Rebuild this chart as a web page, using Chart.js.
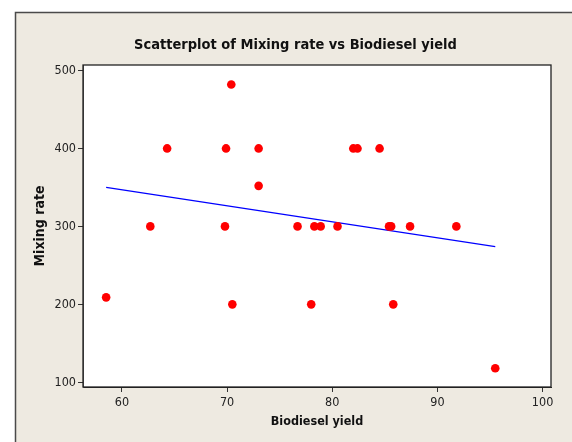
<!DOCTYPE html>
<html>
<head>
<meta charset="utf-8">
<script src="https://cdn.jsdelivr.net/npm/chart.js@4/dist/chart.umd.min.js"></script>
<style>
  html, body { margin: 0; padding: 0; background: #ffffff; }
  #wrap { width: 572px; height: 442px; position: relative; }
</style>
</head>
<body>
<div id="wrap"><canvas id="c" width="572" height="442"></canvas></div>
<script>
// ---- data ----
const biodieselYield = [58.5, 62.7, 64.3, 69.9, 69.8, 70.4, 70.5, 73.0, 73.0, 76.7, 78.3, 78.9, 80.5, 78.0, 82.0, 82.4, 84.5, 85.4, 85.6, 87.4, 91.8, 85.8, 95.5];
const mixingRate     = [209, 300, 400, 400, 300, 482, 200, 400, 352, 300, 300, 300, 300, 200, 400, 400, 400, 300, 300, 300, 300, 200, 118];
const fitLineX = [58.5, 95.5];
const fitLineY = [350, 274];
const xTickValues = [60, 70, 80, 90, 100];
const yTickValues = [100, 200, 300, 400, 500];
const chartTitle = 'Scatterplot of Mixing rate vs Biodiesel yield';
const xTitle = 'Biodiesel yield';
const yTitle = 'Mixing rate';

const points = biodieselYield.map((x, i) => ({ x: x, y: mixingRate[i] }));
const fitPoints = fitLineX.map((x, i) => ({ x: x, y: fitLineY[i] }));

const cond = "'DejaVu Sans Condensed', 'DejaVu Sans', sans-serif";

const framePlugin = {
  id: 'frame',
  beforeDraw(chart) {
    const ctx = chart.ctx;
    const a = chart.chartArea;
    ctx.save();
    ctx.fillStyle = '#ffffff';
    ctx.fillRect(0, 0, chart.width, chart.height);
    ctx.fillStyle = '#eeeae1';
    ctx.fillRect(15, 12, chart.width - 15, chart.height - 12);
    ctx.strokeStyle = '#4a4a4a';
    ctx.lineWidth = 1.5;
    ctx.beginPath();
    ctx.moveTo(15.5, chart.height);
    ctx.lineTo(15.5, 12.5);
    ctx.lineTo(chart.width, 12.5);
    ctx.stroke();
    ctx.fillStyle = '#ffffff';
    ctx.fillRect(a.left, a.top, a.right - a.left, a.bottom - a.top);
    // chart title
    ctx.fillStyle = '#111111';
    ctx.font = 'bold 14.5px ' + cond;
    ctx.textAlign = 'center';
    ctx.textBaseline = 'alphabetic';
    ctx.fillText(chartTitle, 295.5, 49);
    ctx.restore();
  },
  afterDatasetsDraw(chart) {
    const ctx = chart.ctx;
    const a = chart.chartArea;
    ctx.save();
    ctx.strokeStyle = '#222222';
    ctx.lineWidth = 1.3;
    ctx.strokeRect(a.left, a.top, a.right - a.left, a.bottom - a.top);
    ctx.restore();
  }
};

new Chart(document.getElementById('c'), {
  type: 'scatter',
  data: {
    datasets: [
      {
        label: 'Fit',
        data: fitPoints,
        showLine: true,
        borderColor: '#0000ff',
        borderWidth: 1.2,
        pointRadius: 0,
        fill: false,
        order: 2
      },
      {
        label: 'Data',
        data: points,
        backgroundColor: '#ff0000',
        borderColor: '#ff0000',
        borderWidth: 0,
        pointRadius: 4.3,
        pointHoverRadius: 4.3,
        order: 1
      }
    ]
  },
  plugins: [framePlugin],
  options: {
    responsive: false,
    animation: false,
    events: [],
    layout: { padding: { left: 0, right: 21, top: 65, bottom: 0 } },
    plugins: {
      legend: { display: false },
      tooltip: { enabled: false },
      title: { display: false }
    },
    scales: {
      x: {
        type: 'linear',
        min: 56.3,
        max: 100.8,
        afterFit(s) { s.height = 55; },
        afterBuildTicks(s) { s.ticks = xTickValues.map(v => ({ value: v })); },
        grid: { display: true, drawOnChartArea: false, drawTicks: true, tickLength: 5, tickColor: '#333333', tickWidth: 1 },
        border: { display: true, color: '#222222', width: 1 },
        ticks: { color: '#222222', padding: 3, font: { family: cond, size: 12.5 }, maxRotation: 0 },
        title: {
          display: true,
          text: xTitle,
          color: '#111111',
          font: { family: cond, size: 12.5, weight: 'bold', lineHeight: 1.2 },
          padding: { top: 0, bottom: 13 }
        }
      },
      y: {
        type: 'linear',
        min: 94,
        max: 507,
        afterFit(s) { s.width = 83; },
        afterBuildTicks(s) { s.ticks = yTickValues.map(v => ({ value: v })); },
        grid: { display: true, drawOnChartArea: false, drawTicks: true, tickLength: 5, tickColor: '#333333', tickWidth: 1 },
        border: { display: true, color: '#555555', width: 1 },
        ticks: { color: '#222222', padding: 2, font: { family: cond, size: 12.5 } },
        title: {
          display: true,
          text: yTitle,
          color: '#111111',
          font: { family: cond, size: 14, weight: 'bold', lineHeight: 1.2 },
          padding: { top: 31.6, bottom: 0 }
        }
      }
    }
  }
});
</script>
</body>
</html>
